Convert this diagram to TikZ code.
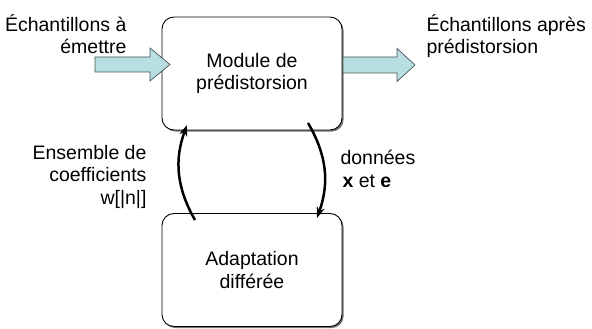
\documentclass[tikz,border=0pt]{standalone}
\usepackage{fontspec}
\setmainfont{Liberation Sans}
\usetikzlibrary{arrows.meta,shadows}

\definecolor{arrowfill}{RGB}{183,222,224}
\definecolor{arrowline}{RGB}{70,84,86}

\begin{document}
\begin{tikzpicture}[x=1pt, y=-1pt, font=\fontsize{19.5pt}{22.5pt}\selectfont]
      \tikzset{block/.style={draw, rounded corners=12pt, fill=white, line width=0.9pt,
                 minimum width=180pt, minimum height=113pt, align=center,
                 drop shadow={shadow xshift=1.6pt, shadow yshift=-1.6pt, fill=black!55, opacity=1}},
               fat arrow/.style={draw=arrowline, fill=arrowfill, line width=0.7pt},
               loop arrow/.style={line width=2.5pt, -{Stealth[length=11pt, width=8pt]}}}
      \useasboundingbox (0,0) rectangle (592,329);

      % Boxes
      \node[block] (module) at (252,73.5) {Module de\\prédistorsion};
      \node[block] (adapt) at (252,270) {Adaptation\\différée};

      % Input and output samples
      \draw[fat arrow] (95,57) -- (150,57) -- (150,48) -- (170,64.5) -- (150,81) -- (150,72) -- (95,72) -- cycle;
      \draw[fat arrow] (343,57) -- (397,57) -- (397,48.5) -- (415,65) -- (397,81.5) -- (397,73) -- (343,73) -- cycle;
      \node[anchor=base east, align=right] (inlabel) at (130,54) {Échantillons à\\émettre};
      \node[anchor=base west, align=left] (outlabel) at (423,54) {Échantillons après\\prédistorsion};

      % Feedback loop between the two boxes
      \coordinate (wstart) at (195,220);
      \coordinate (wend) at (187,125);
      \coordinate (dstart) at (308,123);
      \coordinate (dend) at (317,218);
      \draw[loop arrow] (wstart) to[bend left=25] (wend);
      \draw[loop arrow] (dstart) to[bend left=25] (dend);
      \node[anchor=base east, align=right] (wlabel) at (150,204) {Ensemble de\\coefficients\\w[|n|]};
      \node[anchor=base west, align=left] (dlabel) at (337,187) {données\\\hspace{2pt}\textbf{x} et \textbf{e}};

    \end{tikzpicture}
\end{document}
